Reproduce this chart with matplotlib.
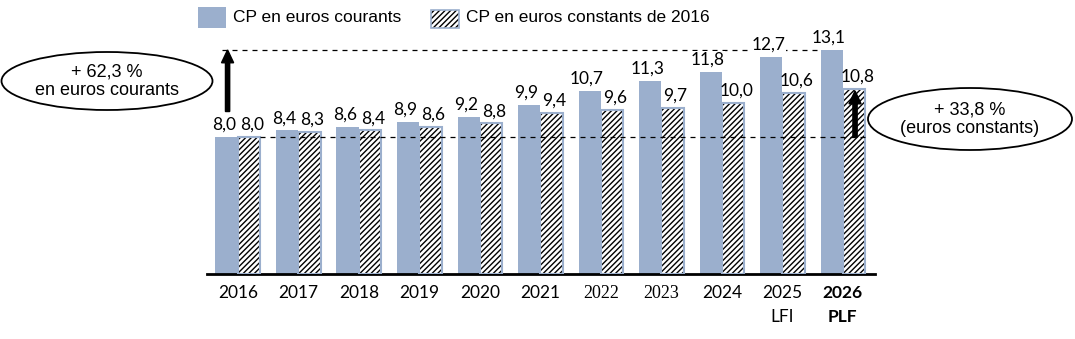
import matplotlib.pyplot as plt
from matplotlib.patches import Ellipse, Rectangle, FancyArrow
import numpy as np

plt.rcParams['hatch.linewidth'] = 1.0

years = ["2016", "2017", "2018", "2019", "2020", "2021", "2022", "2023", "2024", "2025\nLFI", "2026\nPLF"]
cp_courants = [8.0, 8.4, 8.6, 8.9, 9.2, 9.9, 10.7, 11.3, 11.8, 12.7, 13.1]
cp_constants = [8.0, 8.3, 8.4, 8.6, 8.8, 9.4, 9.6, 9.7, 10.0, 10.6, 10.8]
serif_years = ["2022", "2023"]

BLUE = "#9BAFCD"
W = 0.37
HATCH = "//////"
W_PX, H_PX = 1075, 339

fig = plt.figure(figsize=(W_PX / 100, H_PX / 100), dpi=100)
ax = fig.add_axes([207 / W_PX, 65 / H_PX, (875 - 207) / W_PX, 274 / H_PX])
x = np.arange(len(years))

ax.bar(x - W / 2, cp_courants, W, color=BLUE, linewidth=0, zorder=2)
# hatched bars: black hatch on white, light blue outline drawn separately
ax.bar(x + W / 2, cp_constants, W, facecolor="white", edgecolor="black",
       hatch=HATCH, linewidth=0, zorder=2)
ax.bar(x + W / 2, cp_constants, W, facecolor="none", edgecolor=BLUE,
       linewidth=1.5, zorder=3)

def fmt(v):
    return f"{v:.1f}".replace(".", ",")

for i in range(len(years)):
    ax.annotate(fmt(cp_courants[i]), (x[i] - W / 2 - 0.05, cp_courants[i]),
                xytext=(0, 3), textcoords="offset points", ha="center", va="bottom",
                fontsize=12.5, family="Lato", zorder=5,
                bbox=dict(facecolor="white", edgecolor="none", pad=0.5))
    ax.annotate(fmt(cp_constants[i]), (x[i] + W / 2 + 0.05, cp_constants[i]),
                xytext=(0, 3), textcoords="offset points", ha="center", va="bottom",
                fontsize=12.5, family="Lato", zorder=5)

ax.set_xlim(-0.51, 10.53)
ax.set_ylim(0, 16.02)
for s in ["top", "left", "right"]:
    ax.spines[s].set_visible(False)
ax.spines["bottom"].set_linewidth(2)
ax.set_yticks([])
ax.set_xticks(x)
ax.set_xticklabels(years, fontsize=12.5, family="Lato", linespacing=1.6)
ax.tick_params(axis="x", length=0, pad=8)
for lbl in ax.get_xticklabels():
    if lbl.get_text() in serif_years:
        lbl.set_family("Liberation Serif")
        lbl.set_fontsize(13)
    if lbl.get_text().startswith("2026"):
        lbl.set_fontweight("bold")

# reference dashed lines
ax.plot([-0.27, 10 - W], [cp_courants[-1], cp_courants[-1]], color="black",
        ls=(0, (4, 4)), lw=0.9, zorder=1, clip_on=False)
ax.plot([W, 10.45], [cp_courants[0], cp_courants[0]], color="black",
        ls=(0, (4, 4)), lw=0.9, zorder=4, clip_on=False)

# arrows
ax.add_patch(FancyArrow(-0.17, 9.5, 0, cp_courants[-1] - 9.5, width=0.07,
                        head_width=0.2, head_length=0.75, length_includes_head=True,
                        color="black", zorder=6, clip_on=False))
ax.add_patch(FancyArrow(10.2, cp_constants[0], 0, cp_constants[-1] - cp_constants[0] - 0.1,
                        width=0.07, head_width=0.2, head_length=0.75,
                        length_includes_head=True, color="black", zorder=6, clip_on=False))

# ellipses
def px(xp, yp):
    return xp / W_PX, 1 - yp / H_PX

fig.add_artist(Ellipse(px(107, 81), 211 / W_PX, 58 / H_PX, facecolor="white",
                       edgecolor="black", lw=1.3, transform=fig.transFigure))
fig.text(*px(107, 81), "+ 62,3 %\nen euros courants", ha="center", va="center",
         fontsize=13, family="Liberation Sans", linespacing=1.15)
fig.add_artist(Ellipse(px(970, 119), 204 / W_PX, 62 / H_PX, facecolor="white",
                       edgecolor="black", lw=1.3, transform=fig.transFigure))
fig.text(*px(970, 119), "+ 33,8 %\n(euros constants)", ha="center", va="center",
         fontsize=13, family="Liberation Sans", linespacing=1.15)

# legend
fig.add_artist(Rectangle(px(198, 28), 28 / W_PX, 21 / H_PX, facecolor=BLUE,
                         linewidth=0, transform=fig.transFigure))
fig.text(*px(233, 18), "CP en euros courants", ha="left", va="center",
         fontsize=12.5, family="Liberation Sans")
fig.add_artist(Rectangle(px(431, 28), 28 / W_PX, 18 / H_PX, facecolor="white",
                         edgecolor="black", hatch=HATCH, linewidth=0,
                         transform=fig.transFigure))
fig.add_artist(Rectangle(px(431, 28), 28 / W_PX, 18 / H_PX, facecolor="none",
                         edgecolor=BLUE, linewidth=1.2, transform=fig.transFigure))
fig.text(*px(466, 18), "CP en euros constants de 2016", ha="left", va="center",
         fontsize=12.5, family="Liberation Sans")

fig.savefig("out.png", dpi=100)
